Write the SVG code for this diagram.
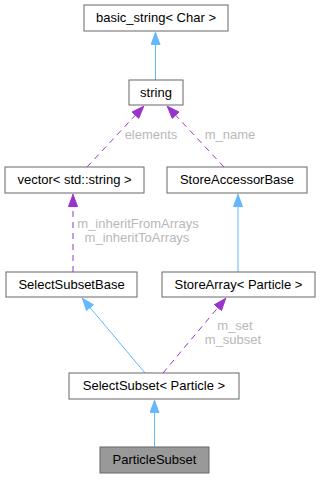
<svg xmlns="http://www.w3.org/2000/svg" width="321" height="479" viewBox="0 0 321 479">
<style>
.n rect{fill:#fff;stroke:#666;stroke-width:1}
.n text{font-family:"Liberation Sans",Arial,sans-serif;font-size:13px;fill:#000;text-anchor:middle}
.lbl{font-family:"Liberation Sans",Arial,sans-serif;font-size:13px;fill:#b8b8b8;text-anchor:middle}
.inh{fill:none;stroke:#63b8ff;stroke-width:1}
.use{fill:none;stroke:#9a32cd;stroke-width:1;stroke-dasharray:6,5}
</style>
<defs>
<marker id="ab" viewBox="0 0 13 10" refX="13" refY="5" markerWidth="13" markerHeight="10" markerUnits="userSpaceOnUse" orient="auto"><path d="M0.5,0.5 L12.5,5 L0.5,9.5 z" fill="#63b8ff" stroke="#63b8ff"/></marker>
<marker id="ap" viewBox="0 0 13 10" refX="13" refY="5" markerWidth="13" markerHeight="10" markerUnits="userSpaceOnUse" orient="auto"><path d="M0.5,0.5 L12.5,5 L0.5,9.5 z" fill="#9a32cd" stroke="#9a32cd"/></marker>
</defs>
<g id="edges">
<path class="inh" d="M155.5,80 L155.5,32" marker-end="url(#ab)"/>
<path class="use" d="M87,167 L144,106" marker-end="url(#ap)"/>
<text class="lbl" x="151" y="139">elements</text>
<path class="use" d="M224,167 L167,106" marker-end="url(#ap)"/>
<text class="lbl" x="230" y="139">m_name</text>
<path class="use" d="M73,272 L73,194" marker-end="url(#ap)"/>
<text class="lbl" x="138" y="228">m_inheritFromArrays</text>
<text class="lbl" x="137" y="242">m_inheritToArrays</text>
<path class="inh" d="M238,272 L238,194" marker-end="url(#ab)"/>
<path class="inh" d="M145,373 L82,298" marker-end="url(#ab)"/>
<path class="use" d="M163,373 L226,298" marker-end="url(#ap)"/>
<text class="lbl" x="235" y="330">m_set</text>
<text class="lbl" x="233" y="344">m_subset</text>
<path class="inh" d="M154.5,447 L154.5,400" marker-end="url(#ab)"/>
</g>
<g id="basic_string" class="n"><rect x="84" y="5" width="144" height="26"/><text x="156" y="22">basic_string&lt; Char &gt;</text></g>
<g id="string" class="n"><rect x="129" y="80" width="54" height="25"/><text x="156" y="97">string</text></g>
<g id="vector" class="n"><rect x="5" y="167" width="139" height="26"/><text x="74.5" y="184">vector&lt; std::string &gt;</text></g>
<g id="StoreAccessorBase" class="n"><rect x="167" y="167" width="140" height="26"/><text x="237" y="184">StoreAccessorBase</text></g>
<g id="SelectSubsetBase" class="n"><rect x="6" y="272" width="131" height="25"/><text x="71.5" y="289">SelectSubsetBase</text></g>
<g id="StoreArray" class="n"><rect x="162" y="272" width="153" height="25"/><text x="238.5" y="289">StoreArray&lt; Particle &gt;</text></g>
<g id="SelectSubset" class="n"><rect x="69" y="373" width="170" height="26"/><text x="154" y="390">SelectSubset&lt; Particle &gt;</text></g>
<g id="ParticleSubset" class="n"><rect x="100" y="447" width="109" height="26" style="fill:#999"/><text x="154.5" y="464">ParticleSubset</text></g>
</svg>
